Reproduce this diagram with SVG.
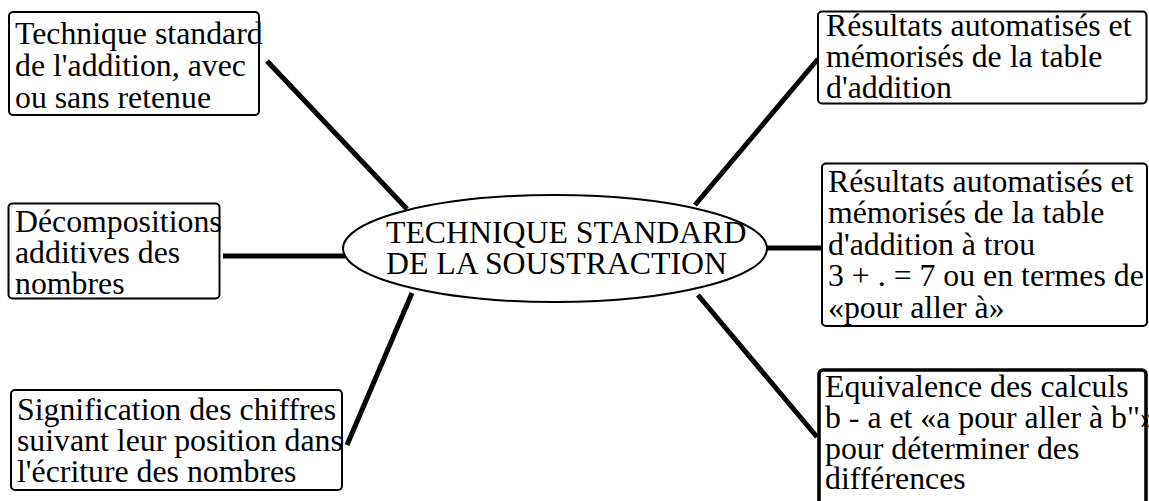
<svg xmlns="http://www.w3.org/2000/svg" width="1149" height="501" viewBox="0 0 1149 501">
<style>
.box{fill:#fff;stroke:#000;stroke-width:2}
.thick{stroke-width:3.5}
text{font-family:'Liberation Serif','Times New Roman',serif;font-size:31.8px;fill:#000}
.conn line{stroke:#000;stroke-width:5;stroke-linecap:butt}
</style>
<rect width="1149" height="501" fill="#fff"/>
<g id="connectors" class="conn">
<line x1="267" y1="61" x2="407" y2="209"/>
<line x1="223" y1="256" x2="345" y2="256"/>
<line x1="412" y1="293" x2="347" y2="445"/>
<line x1="695" y1="205" x2="818" y2="59"/>
<line x1="767" y1="248" x2="822" y2="248"/>
<line x1="698" y1="295" x2="817" y2="437"/>
</g>
<g id="center">
<ellipse cx="555" cy="248.5" rx="212" ry="53.5" fill="#fff" stroke="#000" stroke-width="2"/>
<text x="386" y="242.5">TECHNIQUE STANDARD</text>
<text x="386" y="273.5">DE LA SOUSTRACTION</text>
</g>
<g id="node-tl">
<rect class="box" x="9" y="12" width="250" height="103" rx="4"/>
<text x="15" y="44">Technique standard</text>
<text x="15" y="76">de l'addition, avec</text>
<text x="15" y="107.5">ou sans retenue</text>
</g>
<g id="node-ml">
<rect class="box" x="8.5" y="203.5" width="211" height="95" rx="4"/>
<text x="15" y="231.5">Décompositions</text>
<text x="15" y="262.7">additives des</text>
<text x="15" y="293.5">nombres</text>
</g>
<g id="node-bl">
<rect class="box" x="11" y="390" width="331" height="100" rx="4"/>
<text x="17" y="420">Signification des chiffres</text>
<text x="17" y="451">suivant leur position dans</text>
<text x="17" y="482">l'écriture des nombres</text>
</g>
<g id="node-tr">
<rect class="box" x="818" y="11.5" width="328.5" height="92" rx="4"/>
<text x="826" y="36">Résultats automatisés et</text>
<text x="826" y="67">mémorisés de la table</text>
<text x="826" y="98">d'addition</text>
</g>
<g id="node-mr">
<rect class="box" x="822" y="163.5" width="325" height="162.5" rx="4"/>
<text x="828" y="191.5">Résultats automatisés et</text>
<text x="828" y="223">mémorisés de la table</text>
<text x="828" y="254.7">d'addition à trou</text>
<text x="828" y="286.3">3 + . = 7 ou en termes de</text>
<text x="828" y="318">«pour aller à»</text>
</g>
<g id="node-br">
<rect class="box thick" x="819" y="370" width="327" height="150" rx="4"/>
<text x="825" y="397">Equivalence des calculs</text>
<text x="825" y="427.5">b - a et «a pour aller à b"»</text>
<text x="825" y="458.5">pour déterminer des</text>
<text x="825" y="489">différences</text>
</g>
</svg>
